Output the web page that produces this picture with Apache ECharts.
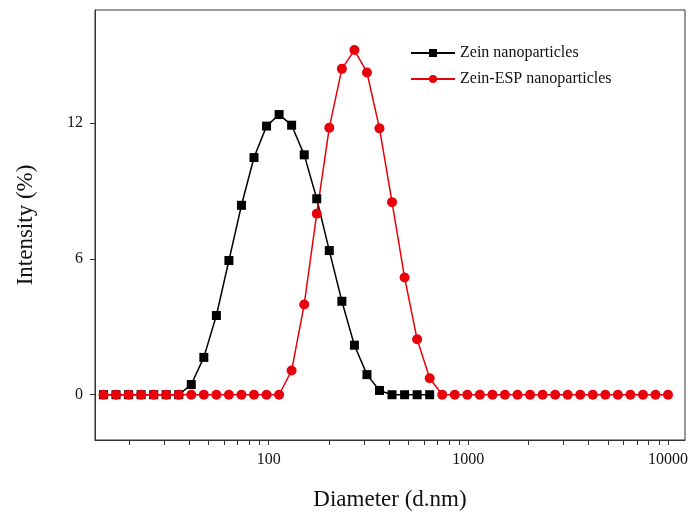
<!DOCTYPE html>
<html><head><meta charset="utf-8">
<script src="https://cdn.jsdelivr.net/npm/echarts@6/dist/echarts.min.js"></script>
<style>html,body{margin:0;background:#fff}#c{width:695px;height:524px}</style>
</head><body><div id="c"></div>
<script>
// diameters (nm), log-spaced size classes
const diam = [14.89, 17.20, 19.88, 22.97, 26.55, 30.68, 35.45, 40.97, 47.35, 54.72, 63.23, 73.07, 84.45, 97.60, 112.8, 130.3, 150.7, 174.1, 201.2, 232.6, 268.8, 310.6, 358.9, 414.8, 479.4, 554.0, 640.3, 739.9, 855.2, 988.2, 1142, 1320, 1525, 1763, 2037, 2354, 2721, 3144, 3633, 4199, 4853, 5608, 6481, 7490, 8656, 10000]
const zein = [0,0,0,0,0,0,0,0.45,1.65,3.5,5.93,8.37,10.48,11.87,12.38,11.91,10.6,8.66,6.37,4.13,2.19,0.89,0.19,0,0,0,0]
const zeinEsp = [0,0,0,0,0,0,0,0,0,0,0,0,0,0,0,1.07,3.99,8.0,11.8,14.4,15.23,14.24,11.77,8.51,5.18,2.45,0.73,0,0,0,0,0,0,0,0,0,0,0,0,0,0,0,0,0,0,0]
const xLabels = [100, 1000, 10000]
const yLabels = [0, 6, 12]
const xTicks = [20,30,40,50,60,70,80,90,100,200,300,400,500,600,700,800,900,1000,2000,3000,4000,5000,6000,7000,8000,9000,10000]

const font = '"Liberation Serif", "DejaVu Serif", serif'
const pairs = (ys) => ys.map((v, i) => [diam[i], v])

const chart = echarts.init(document.getElementById('c'))
chart.setOption({
    animation: false,
    grid: {left: 95, right: 10, top: 10, bottom: 84, show: true, borderColor: '#333', borderWidth: 1},
    legend: {
        top: 40, left: 405, orient: 'vertical', itemGap: 10, itemWidth: 44, itemHeight: 10,
        textStyle: {fontFamily: font, fontSize: 16, color: '#111'},
        data: ['Zein nanoparticles', 'Zein-ESP nanoparticles']
    },
    xAxis: {
        type: 'log', min: 13.5, max: 12160, logBase: 10,
        name: 'Diameter (d.nm)', nameLocation: 'middle', nameGap: 48,
        nameTextStyle: {fontFamily: font, fontSize: 23, color: '#111'},
        axisLine: {onZero: false, lineStyle: {color: '#333'}},
        axisTick: {customValues: xTicks, length: 5, lineStyle: {color: '#333'}},
        axisLabel: {customValues: xLabels, formatter: v => String(v), fontFamily: font, fontSize: 16, color: '#111', margin: 12},
        splitLine: {show: false}
    },
    yAxis: {
        type: 'value', min: -2, max: 17,
        name: 'Intensity (%)', nameLocation: 'middle', nameGap: 58,
        nameTextStyle: {fontFamily: font, fontSize: 23, color: '#111'},
        axisLine: {show: true, onZero: false, lineStyle: {color: '#333'}},
        axisTick: {show: true, customValues: yLabels, length: 5, lineStyle: {color: '#333'}},
        axisLabel: {customValues: yLabels, fontFamily: font, fontSize: 16, color: '#111', margin: 12},
        splitLine: {show: false}
    },
    series: [{
        name: 'Zein nanoparticles', type: 'line', data: pairs(zein),
        symbol: 'rect', symbolSize: 9, color: '#000', lineStyle: {width: 1.5}
    }, {
        name: 'Zein-ESP nanoparticles', type: 'line', data: pairs(zeinEsp),
        symbol: 'circle', symbolSize: 10, color: '#e8000b', lineStyle: {width: 1.5}
    }]
})
</script>
</body></html>
